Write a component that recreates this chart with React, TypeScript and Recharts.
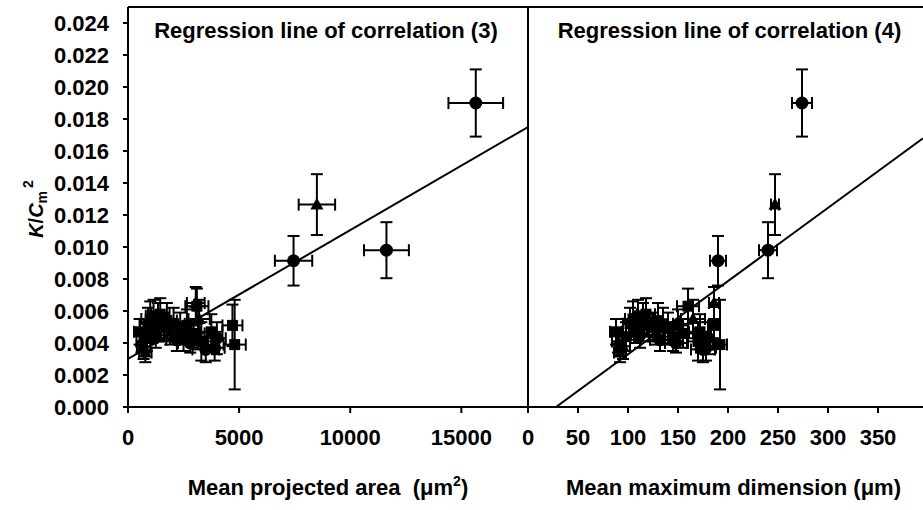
import React from "react";
import { ErrorBar, ReferenceLine, Scatter, ScatterChart, XAxis, YAxis } from "recharts";

// K/Cm^2 per particle class, with error
const kValues = [
  0.0047, 0.0041, 0.0038, 0.0034, 0.0044, 0.0052, 0.0055, 0.0049, 0.0057, 0.0045,
  0.0053, 0.0058, 0.005, 0.0054, 0.0047, 0.0052, 0.0042, 0.0049, 0.0044, 0.0051,
  0.004, 0.0046, 0.0063, 0.0055, 0.0041, 0.0036, 0.0047, 0.0037, 0.0043, 0.0051,
  0.0039, 0.0065, 0.00914, 0.01265, 0.0098, 0.019,
];
const kErrors = [
  0.0008, 0.0007, 0.0008, 0.0006, 0.0009, 0.001, 0.0011, 0.0009, 0.001, 0.0008,
  0.0012, 0.001, 0.0009, 0.0011, 0.0008, 0.001, 0.0007, 0.001, 0.0009, 0.001,
  0.0006, 0.0009, 0.0011, 0.0012, 0.0012, 0.0008, 0.0011, 0.0008, 0.001, 0.0013,
  0.0028, 0.001, 0.00155, 0.0019, 0.00175, 0.0021,
];
// mean projected area (um^2)
const areaValues = [
  520, 600, 700, 780, 850, 900, 1000, 1100, 1150, 1250,
  1350, 1450, 1600, 1750, 1900, 2050, 2200, 2350, 2500, 2650,
  2800, 2950, 3100, 3200, 3300, 3500, 3750, 3900, 4000, 4700,
  4800, 3050, 7450, 8500, 11630, 15650,
];
const areaErrors = [
  250, 220, 300, 280, 300, 350, 400, 380, 350, 400,
  380, 420, 400, 450, 420, 500, 480, 500, 520, 500,
  550, 500, 520, 480, 550, 600, 500, 450, 400, 450,
  500, 400, 840, 820, 1010, 1230,
];
// mean maximum dimension (um)
const dimValues = [
  88, 90, 95, 92, 98, 102, 105, 108, 110, 112,
  115, 118, 125, 130, 128, 135, 132, 140, 145, 150,
  148, 155, 160, 165, 170, 175, 172, 178, 180, 186,
  192, 186, 190, 247, 240, 274,
];
const dimErrors = [
  6, 6, 7, 6, 8, 7, 8, 7, 8, 9,
  8, 9, 9, 10, 9, 10, 10, 11, 10, 10,
  11, 12, 11, 12, 10, 12, 11, 10, 12, 6,
  7, 5, 8, 4, 9, 10,
];
const markerShapes = [
  "square", "triangle", "triangle", "triangle", "square", "square", "square", "square", "square", "circle",
  "square", "square", "square", "square", "triangle", "square", "circle", "square", "square", "square",
  "circle", "square", "square", "triangle", "square", "circle", "square", "circle", "circle", "square",
  "square", "triangle", "circle", "triangle", "circle", "circle",
];

const yTicks = [0, 0.002, 0.004, 0.006, 0.008, 0.01, 0.012, 0.014, 0.016, 0.018, 0.02, 0.022, 0.024];
const areaTicks = [0, 5000, 10000, 15000];
const dimTicks = [0, 50, 100, 150, 200, 250, 300, 350];

// regression lines, end points
const areaFit = [
  { area: 0, k: 0.003 },
  { area: 18000, k: 0.0175 },
];
const dimFit = [
  { dim: 28, k: 0 },
  { dim: 395, k: 0.0168 },
];

const points = kValues.map((k, i) => ({
  k,
  kErr: kErrors[i],
  area: areaValues[i],
  areaErr: areaErrors[i],
  dim: dimValues[i],
  dimErr: dimErrors[i],
  shape: markerShapes[i],
}));

const FONT = "'Liberation Sans', Arial, sans-serif";
const tickStyle = { fill: "#000", fontSize: 22, fontWeight: "bold", fontFamily: FONT };
const lineStyle = { stroke: "#000", strokeWidth: 2 };

const Marker = (props: any) => {
  const { cx, cy, payload } = props;
  if (cx == null || cy == null) return <g />;
  if (payload.shape === "circle") return <circle cx={cx} cy={cy} r={6.5} fill="#000" />;
  if (payload.shape === "triangle")
    return <polygon points={`${cx},${cy - 7} ${cx - 6.5},${cy + 5} ${cx + 6.5},${cy + 5}`} fill="#000" />;
  return <rect x={cx - 5.5} y={cy - 5.5} width={11} height={11} fill="#000" />;
};

const NoMarker = () => <g />;

const PanelTitle = (props: any) => {
  const vb = props.viewBox || { x: 0, y: 0, width: 0 };
  return (
    <text
      x={vb.x + vb.width / 2 + props.dx}
      y={vb.y + 31}
      textAnchor="middle"
      fontSize={22}
      fontWeight="bold"
      fontFamily={FONT}
      fill="#000"
    >
      {props.text}
    </text>
  );
};

const AreaTitle = (props: any) => {
  const vb = props.viewBox;
  return (
    <text
      x={vb.x + vb.width / 2}
      y={vb.y + 88}
      textAnchor="middle"
      fontSize={22}
      fontWeight="bold"
      fontFamily={FONT}
      fill="#000"
      style={{ whiteSpace: "pre" }}
    >
      {"Mean projected area  (\u03bcm"}
      <tspan dy={-9} fontSize={14}>2</tspan>
      <tspan dy={9}>)</tspan>
    </text>
  );
};

const DimTitle = (props: any) => {
  const vb = props.viewBox;
  return (
    <text
      x={vb.x + vb.width / 2 + 8}
      y={vb.y + 88}
      textAnchor="middle"
      fontSize={22}
      fontWeight="bold"
      fontFamily={FONT}
      fill="#000"
    >
      {"Mean maximum dimension (\u03bcm)"}
    </text>
  );
};

const KLabel = () => (
  <text
    transform="rotate(-90 43 209)"
    x={43}
    y={209}
    textAnchor="middle"
    fontSize={20}
    fontWeight="bold"
    fontFamily={FONT}
    fill="#000"
  >
    <tspan fontStyle="italic">K</tspan>/<tspan fontStyle="italic">C</tspan>
    <tspan fontSize={14} dy={4}>m</tspan>
    <tspan fontSize={14} dy={-14} dx={3}>2</tspan>
  </text>
);

export default function App() {
  return (
    <div style={{ position: "absolute", left: 0, top: 0, width: 923, height: 510, background: "#fff", overflow: "hidden" }}>
      <div style={{ position: "absolute", left: 0, top: 0 }}>
        <ScatterChart width={530} height={510} margin={{ top: 7, right: 2, left: 0, bottom: 0 }}>
          <XAxis
            type="number"
            dataKey="area"
            domain={[0, 18000]}
            ticks={areaTicks}
            interval={0}
            allowDataOverflow
            height={103}
            tickSize={6}
            tickMargin={16}
            tick={tickStyle}
            axisLine={lineStyle}
            tickLine={lineStyle}
            label={<AreaTitle />}
          />
          <YAxis
            type="number"
            dataKey="k"
            domain={[0, 0.025]}
            ticks={yTicks}
            interval={0}
            allowDataOverflow
            width={128}
            tickSize={5}
            tickMargin={14}
            tick={tickStyle}
            tickFormatter={(v: number) => v.toFixed(3)}
            axisLine={lineStyle}
            tickLine={lineStyle}
            label={<KLabel />}
          />
          <ReferenceLine
            y={0.025}
            stroke="#000"
            strokeWidth={2}
            label={<PanelTitle text="Regression line of correlation (3)" dx={-2} />}
          />
          <ReferenceLine x={18000} stroke="#000" strokeWidth={2} />
          <Scatter data={areaFit} line={lineStyle} shape={NoMarker} isAnimationActive={false} />
          <Scatter data={points} shape={Marker} isAnimationActive={false}>
            <ErrorBar dataKey="areaErr" direction="x" width={6} stroke="#000" strokeWidth={2} isAnimationActive={false} />
            <ErrorBar dataKey="kErr" direction="y" width={6} stroke="#000" strokeWidth={2} isAnimationActive={false} />
          </Scatter>
        </ScatterChart>
      </div>
      <div style={{ position: "absolute", left: 488, top: 0 }}>
        <ScatterChart width={435} height={510} margin={{ top: 7, right: 0, left: 40, bottom: 0 }}>
          <XAxis
            type="number"
            dataKey="dim"
            domain={[0, 395]}
            ticks={dimTicks}
            interval={0}
            allowDataOverflow
            height={103}
            tickSize={6}
            tickMargin={16}
            tick={tickStyle}
            axisLine={lineStyle}
            tickLine={lineStyle}
            label={<DimTitle />}
          />
          <YAxis
            type="number"
            dataKey="k"
            domain={[0, 0.025]}
            ticks={yTicks}
            allowDataOverflow
            width={0}
            tick={false}
            tickLine={false}
            axisLine={lineStyle}
          />
          <ReferenceLine
            y={0.025}
            stroke="#000"
            strokeWidth={2}
            label={<PanelTitle text="Regression line of correlation (4)" dx={4} />}
          />
          <Scatter data={dimFit} line={lineStyle} shape={NoMarker} isAnimationActive={false} />
          <Scatter data={points} shape={Marker} isAnimationActive={false}>
            <ErrorBar dataKey="dimErr" direction="x" width={6} stroke="#000" strokeWidth={2} isAnimationActive={false} />
            <ErrorBar dataKey="kErr" direction="y" width={6} stroke="#000" strokeWidth={2} isAnimationActive={false} />
          </Scatter>
        </ScatterChart>
      </div>
    </div>
  );
}
